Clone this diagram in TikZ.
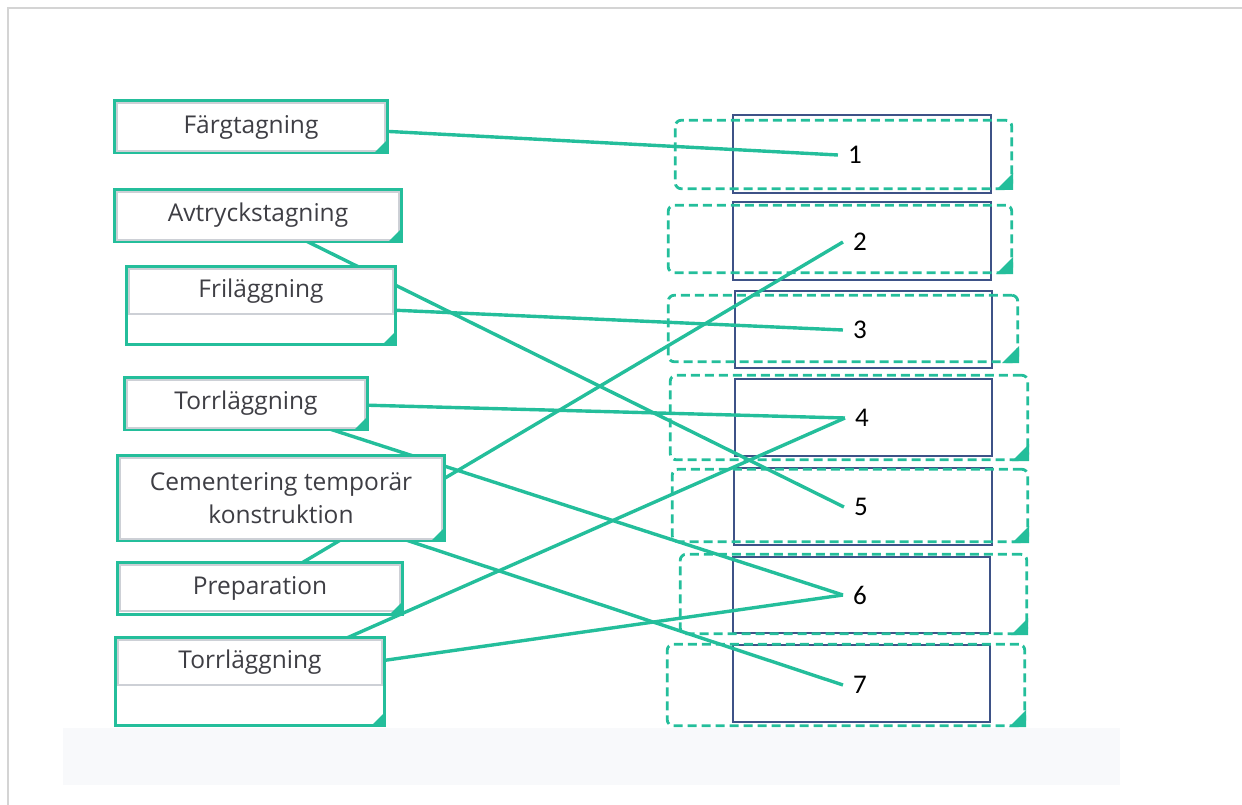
\documentclass[tikz,border=0pt]{standalone}
\usepackage{fontspec}
\setmainfont{Open Sans}
\newfontfamily\numfont{Carlito}
\usetikzlibrary{calc}
\definecolor{tgreen}{RGB}{36,190,155}
\definecolor{tnavy}{RGB}{62,82,135}
\definecolor{ttext}{RGB}{62,62,68}
\definecolor{trow}{RGB}{205,208,214}
\definecolor{tframe}{RGB}{212,212,212}
\definecolor{tbottom}{RGB}{248,249,251}
\pgfdeclarelayer{back}\pgfdeclarelayer{mid}\pgfsetlayers{back,mid,main}
\tikzset{
 lboxst/.style={draw=tgreen, line width=3.2pt, fill=white, inner sep=0pt},
 rowst/.style={draw=trow, line width=1.3pt},
 ltext/.style={text=ttext, font=\fontsize{24.5}{33}\selectfont, align=center, inner sep=0pt},
 navyst/.style={draw=tnavy, line width=2.4pt, inner sep=0pt},
 dashst/.style={draw=tgreen, line width=2.8pt, dash pattern=on 9pt off 5pt, rounded corners=6pt, inner sep=0pt},
 numst/.style={font=\numfont\fontsize{27}{30}\selectfont, text=black, inner xsep=10pt, inner ysep=0pt},
 conn/.style={draw=tgreen, line width=3.4pt},
}
\newcommand\mkleft[8]{%
 \node[lboxst, minimum width={#4-#2-3}, minimum height={#5-#3-3}] (#1) at ({(#2+#4)/2},{(#3+#5)/2}) {};
 \draw[rowst] ({#2+4},{#3+4}) rectangle ({#4-4},#6);
 \fill[tgreen] ({#4-1},{#5-1}) -- ++(0,-14) -- ++(-14,14) -- cycle;
 \node[ltext] (#1t) at ({(#2+#4)/2},#8) {#7};
}
\newcommand\mkright[9]{%
 \node[navyst, minimum width={#4-#2-2}, minimum height={#5-#3-2}] (r#1) at ({(#2+#4)/2},{(#3+#5)/2}) {};
 \node[dashst, minimum width={#8-#6-2.5}, minimum height={#9-#7-2.5}] (d#1) at ({(#6+#8)/2},{(#7+#9)/2}) {};
 \fill[tgreen] ({#8},{#9}) -- ++(0,-17) -- ++(-17,17) -- cycle;
}
\begin{document}
\begin{tikzpicture}[x=1pt,y=-1pt]
\useasboundingbox (0,0) rectangle (1242,805);
\begin{pgfonlayer}{back}
 \fill[tbottom] (63,728) rectangle (1120,785);
 \draw[tframe, line width=1.5pt] (8,805) -- (8,8) -- (1242,8);
 \mkright{1}{732}{114}{992}{194}{674}{119}{1013}{190}
 \mkright{2}{732}{201}{992}{281}{667}{204}{1013}{274}
 \mkright{3}{734}{290}{993}{369}{667}{294}{1019}{363}
 \mkright{4}{734}{378}{993}{457}{669}{374}{1029}{461}
 \mkright{5}{733}{467}{993}{546}{671}{468}{1029}{543}
 \mkright{6}{732}{556}{991}{634}{679}{553}{1028}{635}
 \mkright{7}{732}{644}{991}{723}{666}{643}{1026}{727}
\end{pgfonlayer}
% left boxes
\mkleft{b1}{113}{99}{389}{154}{151}{Färgtagning}{127}
\mkleft{b2}{113}{188}{403}{243}{240}{Avtryckstagning}{215}
\mkleft{b3}{125}{265}{397}{346}{314}{Friläggning}{291}
\mkleft{b4}{123}{376}{369}{431}{428}{Torrläggning}{403}
\mkleft{b5}{116}{454}{446}{542}{539}{Cementering temporär\\konstruktion}{498}
\mkleft{b6}{116}{561}{404}{616}{611}{Preparation}{588}
\mkleft{b7}{114}{636}{386}{727}{685}{Torrläggning}{662}
% numbers
\node[numst] (n1) at (855,155) {1};
\node[numst] (n2) at (860,242) {2};
\node[numst] (n3) at (860,330) {3};
\node[numst] (n4) at (862,418) {4};
\node[numst] (n5) at (861,507) {5};
\node[numst] (n6) at (860,595) {6};
\node[numst] (n7) at (860,685) {7};
% connector start points (inside the left boxes)
\coordinate (s1) at (380,131);
\coordinate (s2) at (290,233);
\coordinate (s3) at (390,310);
\coordinate (s4) at (360,405);
\coordinate (s5) at (305,421);
\coordinate (s6) at (295,567);
\coordinate (s7) at (400,538);
\coordinate (s8) at (340,641);
\coordinate (s9) at (380,661);
\begin{pgfonlayer}{mid}
 \draw[conn] (s1) -- (n1.west);
 \draw[conn] (s2) -- (n5.west);
 \draw[conn] (s3) -- (n3.west);
 \draw[conn] (s4) -- (n4.west);
 \draw[conn] (s5) -- (n6.west);
 \draw[conn] (s6) -- (n2.west);
 \draw[conn] (s7) -- (n7.west);
 \draw[conn] (s8) -- (n4.west);
 \draw[conn] (s9) -- (n6.west);
\end{pgfonlayer}
\end{tikzpicture}
\end{document}
